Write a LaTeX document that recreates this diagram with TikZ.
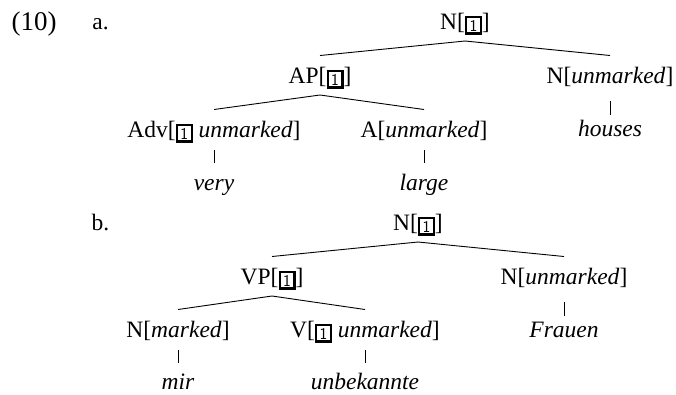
\documentclass[tikz,border=0pt]{standalone}
\usepackage{fontspec}
\setmainfont{Liberation Serif}

% boxed tag index
\newlength{\tagrule}\setlength{\tagrule}{2.2pt}
\newcommand{\tagone}{\raisebox{-2pt}{\setlength{\fboxrule}{\tagrule}\setlength{\fboxsep}{1.3pt}\fbox{\makebox[10pt]{\rule{0pt}{11.5pt}\sffamily\fontsize{16.5}{16.5}\selectfont 1}}}}

\tikzset{
  lbl/.style={anchor=base, inner sep=0pt, font=\fontsize{23.5}{28}\selectfont},
  edge/.style={line width=0.9pt, black}
}
% branch from mother to daughter
\newcommand{\branch}[2]{\draw[edge] ([yshift=-12pt]#1.base) -- ([yshift=27.5pt]#2.base);}
% unary tick
\newcommand{\tick}[4]{\draw[edge] ([yshift=-#3pt]#1.base) -- ([yshift=#4pt]#2.base);}

\begin{document}
\begin{tikzpicture}[x=1pt,y=-1pt]
\useasboundingbox (0,0) rectangle (676,394);

% example number and sub-labels
\node[lbl, font=\fontsize{27}{32}\selectfont] (exnum) at (34,30) {(10)};
\node[lbl] (suba) at (100.5,29) {a.};
\node[lbl] (subb) at (100.5,230) {b.};

% tree (a)
\node[lbl] (ra)  at (465,29)  {N[\tagone]};
\node[lbl] (apa) at (320,83)  {AP[\tagone]};
\node[lbl] (nua) at (610,83)  {N[\textit{unmarked}]};
\node[lbl] (adva) at (214,137) {Adv[\tagone\ \textit{unmarked}]};
\node[lbl] (aa)  at (424,137) {A[\textit{unmarked}]};
\node[lbl] (housesa) at (610,136) {\textit{houses}};
\node[lbl] (verya) at (214,190) {\textit{very}};
\node[lbl] (largea) at (424,190) {\textit{large}};

\branch{ra}{apa}
\branch{ra}{nua}
\branch{apa}{adva}
\branch{apa}{aa}
\tick{adva}{verya}{13}{27}
\tick{aa}{largea}{13}{27}
\tick{nua}{housesa}{18}{21}

% tree (b)
\node[lbl] (rb)  at (418,230) {N[\tagone]};
\node[lbl] (vpb) at (272,284) {VP[\tagone]};
\node[lbl] (nub) at (564,284) {N[\textit{unmarked}]};
\node[lbl] (nmb) at (178,337) {N[\textit{marked}]};
\node[lbl] (vb)  at (365,337) {V[\tagone\ \textit{unmarked}]};
\node[lbl] (frauenb) at (564,337) {\textit{Frauen}};
\node[lbl] (mirb) at (178,389) {\textit{mir}};
\node[lbl] (unbekb) at (365,389) {\textit{unbekannte}};

\branch{rb}{vpb}
\branch{rb}{nub}
\branch{vpb}{nmb}
\branch{vpb}{vb}
\tick{nmb}{mirb}{13}{26}
\tick{vb}{unbekb}{13}{26}
\tick{nub}{frauenb}{18}{21}
\end{tikzpicture}
\end{document}
